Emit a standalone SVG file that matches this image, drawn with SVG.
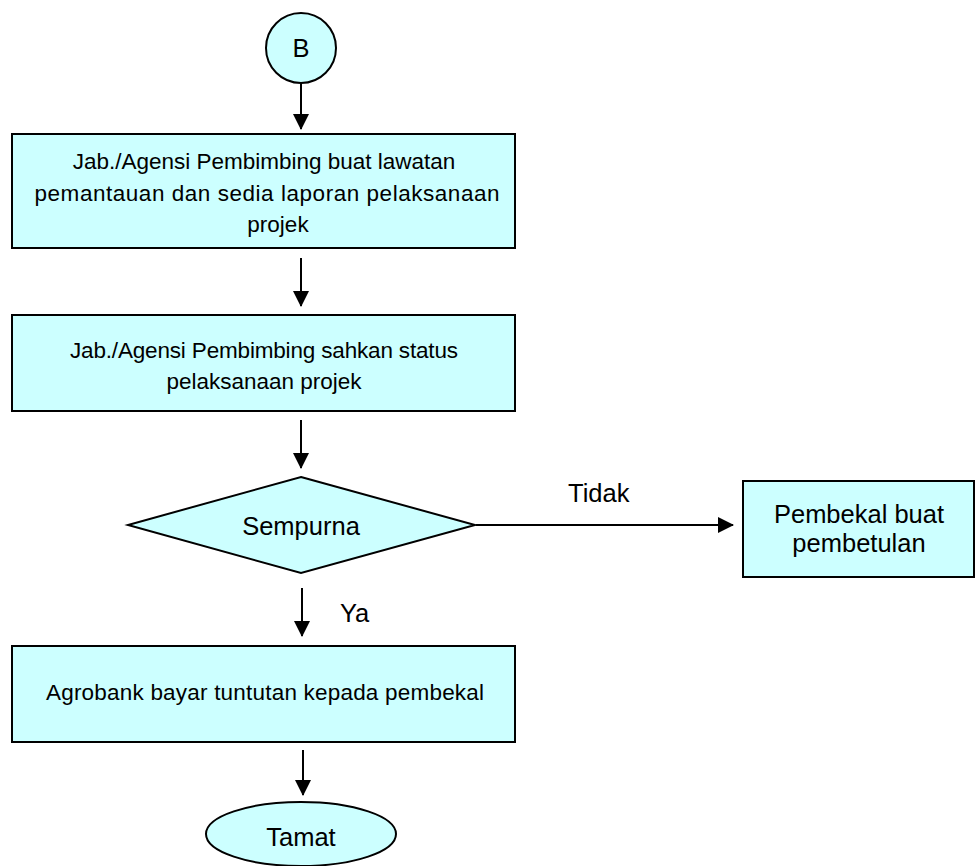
<svg xmlns="http://www.w3.org/2000/svg" width="978" height="866" viewBox="0 0 978 866">
<style>
.shape{fill:#CCFFFF;stroke:#000;stroke-width:2}
.t{font-family:"Liberation Sans",Arial,sans-serif;font-size:22.5px;fill:#000;text-anchor:middle}
.tb{font-family:"Liberation Sans",Arial,sans-serif;font-size:25.5px;fill:#000;text-anchor:middle}
.tl{font-family:"Liberation Sans",Arial,sans-serif;font-size:25.5px;fill:#000}
.c{stroke:#000;stroke-width:2;fill:none;marker-end:url(#ah)}
</style>
<defs>
<marker id="ah" markerUnits="userSpaceOnUse" markerWidth="16" markerHeight="16" viewBox="0 0 16 16" refX="15" refY="8" orient="auto">
<path d="M0,0 L16,8 L0,16 Z" fill="#000"/>
</marker>
</defs>
<rect width="978" height="866" fill="#fff"/>
<g id="connectors">
<line class="c" x1="301" y1="83" x2="301" y2="129"/>
<line class="c" x1="301" y1="258" x2="301" y2="306"/>
<line class="c" x1="301" y1="420" x2="301" y2="468"/>
<line class="c" x1="302" y1="588" x2="302" y2="636"/>
<line class="c" x1="303" y1="750" x2="303" y2="795"/>
<line class="c" x1="476" y1="525" x2="733" y2="525"/>
<text class="tl" x="568" y="502">Tidak</text>
<text class="tl" x="340" y="622">Ya</text>
</g>
<g id="nodeB">
<circle class="shape" cx="301" cy="48" r="35"/>
<text class="tb" x="301" y="57">B</text>
</g>
<g id="node1">
<rect class="shape" x="12" y="134" width="503" height="114"/>
<text class="t" x="264" y="169">Jab./Agensi Pembimbing buat lawatan</text>
<text class="t" x="267" y="201" textLength="465" lengthAdjust="spacing">pemantauan dan sedia laporan pelaksanaan</text>
<text class="t" x="278" y="232">projek</text>
</g>
<g id="node2">
<rect class="shape" x="12" y="315" width="503" height="96"/>
<text class="t" x="264" y="358" textLength="388" lengthAdjust="spacing">Jab./Agensi Pembimbing sahkan status</text>
<text class="t" x="264" y="389">pelaksanaan projek</text>
</g>
<g id="decision">
<polygon class="shape" points="301,477 475,525 301,573 128,525"/>
<text class="tb" x="301" y="535">Sempurna</text>
</g>
<g id="nodePembekal">
<rect class="shape" x="743" y="481" width="231" height="96"/>
<text class="tb" x="859" y="523">Pembekal buat</text>
<text class="tb" x="859" y="552">pembetulan</text>
</g>
<g id="node3">
<rect class="shape" x="12" y="646" width="503" height="96"/>
<text class="t" x="265" y="700" textLength="438" lengthAdjust="spacing">Agrobank bayar tuntutan kepada pembekal</text>
</g>
<g id="end">
<ellipse class="shape" cx="301" cy="834" rx="95" ry="32"/>
<text class="tb" x="301" y="846">Tamat</text>
</g>
</svg>
